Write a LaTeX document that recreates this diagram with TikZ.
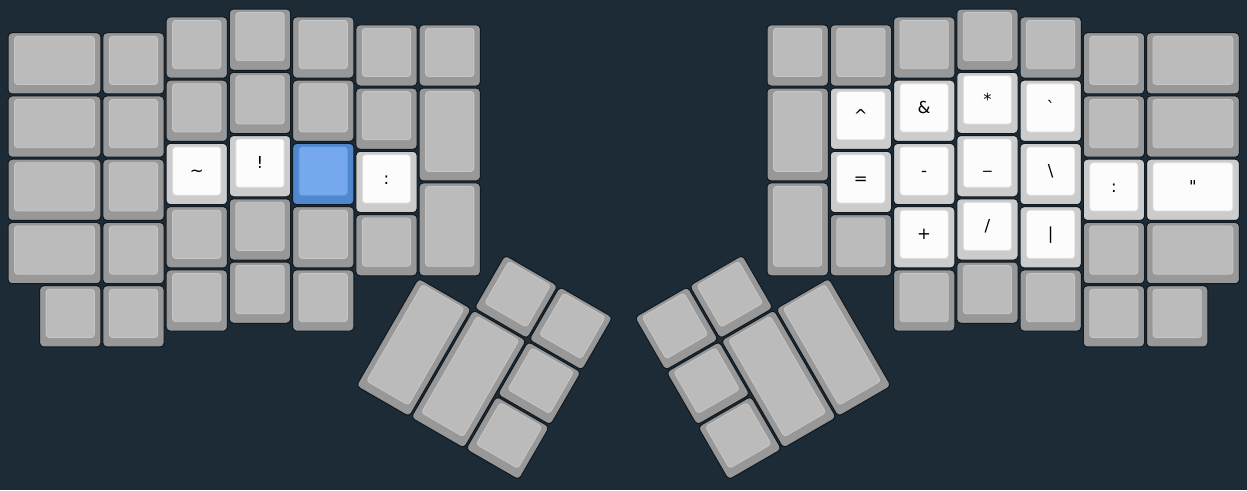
\documentclass[tikz,border=0pt]{standalone}
\usepackage{fontspec}
\setmainfont{DejaVu Sans}
\definecolor{bg}{HTML}{1C2B35}
\definecolor{kline}{HTML}{101820}
\definecolor{ngo}{HTML}{989898}
\definecolor{ngi}{HTML}{BBBBBB}
\definecolor{ngb}{HTML}{C6C6C6}
\definecolor{hgo}{HTML}{CCCCCC}
\definecolor{hgi}{HTML}{FCFCFC}
\definecolor{hgb}{HTML}{DDDDDD}
\definecolor{bgo}{HTML}{5088D0}
\definecolor{bgi}{HTML}{76A8EE}
\definecolor{bgb}{HTML}{6B9DE2}
\newcommand{\ku}{63.25pt}
\tikzset{
  n outer/.style={fill=ngo, draw=kline, line width=1pt, rounded corners=4pt},
  n inner/.style={fill=ngi, draw=ngb, line width=0.8pt, rounded corners=3pt},
  h outer/.style={fill=hgo, draw=kline, line width=1pt, rounded corners=4pt},
  h inner/.style={fill=hgi, draw=hgb, line width=0.8pt, rounded corners=3pt},
  b outer/.style={fill=bgo, draw=kline, line width=1pt, rounded corners=4pt},
  b inner/.style={fill=bgi, draw=bgb, line width=0.8pt, rounded corners=3pt},
  lbl/.style={anchor=base, font=\fontsize{16.5}{16.5}\selectfont, text=black, inner sep=0pt}
}
% key cap: #1 x, #2 y, #3 w, #4 h, #5 kind (n/h/b)
\newcommand{\kcap}[5]{%
  \begin{scope}[shift={({(#1)*\ku},{-(#2)*\ku})}]
    \draw[#5 outer] (1pt,-1pt) rectangle ({(#3)*\ku-1pt},{-(#4)*\ku+1pt});
    \draw[#5 inner] (7.5pt,-4.5pt) rectangle ({(#3)*\ku-7.5pt},{-(#4)*\ku+10.5pt});
  \end{scope}}
% labelled key: #1 x, #2 y, #3 kind, #4 label, #5 name
\newcommand{\lkey}[5]{%
  \kcap{#1}{#2}{1}{1}{#3}%
  \node[lbl] (#5) at ({(#1+0.5)*\ku},{-(#2)*\ku-34pt}) {#4};}
\begin{document}
\begin{tikzpicture}
\useasboundingbox (0,0) rectangle (1247pt,-490pt);
\fill[bg] (0,0) rectangle (1247pt,-490pt);
% ---------- left half ----------
\begin{scope}[shift={(7pt,-8pt)}]
  \foreach \r in {0.375,1.375,2.375,3.375} {\kcap{0}{\r}{1.5}{1}{n}}
  \kcap{0.5}{4.375}{1}{1}{n}
  \foreach \r in {0.375,1.375,2.375,3.375,4.375} {\kcap{1.5}{\r}{1}{1}{n}}
  \foreach \r in {0.125,1.125,3.125,4.125} {\kcap{2.5}{\r}{1}{1}{n}}
  \lkey{2.5}{2.125}{h}{\textasciitilde}{ltilde}
  \foreach \r in {0,1,3,4} {\kcap{3.5}{\r}{1}{1}{n}}
  \lkey{3.5}{2}{h}{!}{lexcl}
  \foreach \r in {0.125,1.125,3.125,4.125} {\kcap{4.5}{\r}{1}{1}{n}}
  \kcap{4.5}{2.125}{1}{1}{b}
  \foreach \r in {0.25,1.25,3.25} {\kcap{5.5}{\r}{1}{1}{n}}
  \lkey{5.5}{2.25}{h}{:}{lcolon}
  \kcap{6.5}{0.25}{1}{1}{n}
  \kcap{6.5}{1.25}{1}{1.5}{n}
  \kcap{6.5}{2.75}{1}{1.5}{n}
\end{scope}
% left thumb cluster
\begin{scope}[shift={({7pt+6.5*\ku},{-8pt-4.25*\ku})}, rotate=-30]
  \kcap{1}{-1}{1}{1}{n}
  \kcap{2}{-1}{1}{1}{n}
  \kcap{0}{0}{1}{2}{n}
  \kcap{1}{0}{1}{2}{n}
  \kcap{2}{0}{1}{1}{n}
  \kcap{2}{1}{1}{1}{n}
\end{scope}
% ---------- right half ----------
\begin{scope}[shift={({7pt+12*\ku},-8pt)}]
  \kcap{0}{0.25}{1}{1}{n}
  \kcap{0}{1.25}{1}{1.5}{n}
  \kcap{0}{2.75}{1}{1.5}{n}
  \foreach \r in {0.25,3.25} {\kcap{1}{\r}{1}{1}{n}}
  \lkey{1}{1.25}{h}{\textasciicircum}{rcirc}
  \lkey{1}{2.25}{h}{=}{requal}
  \foreach \r in {0.125,4.125} {\kcap{2}{\r}{1}{1}{n}}
  \lkey{2}{1.125}{h}{\&}{ramp}
  \lkey{2}{2.125}{h}{-}{rminus}
  \lkey{2}{3.125}{h}{+}{rplus}
  \foreach \r in {0,4} {\kcap{3}{\r}{1}{1}{n}}
  \lkey{3}{1}{h}{*}{rstar}
  \lkey{3}{2}{h}{\_}{runder}
  \lkey{3}{3}{h}{/}{rslash}
  \foreach \r in {0.125,4.125} {\kcap{4}{\r}{1}{1}{n}}
  \lkey{4}{1.125}{h}{\textasciigrave}{rgrave}
  \lkey{4}{2.125}{h}{\textbackslash}{rbslash}
  \lkey{4}{3.125}{h}{\textbar}{rbar}
  \foreach \r in {0.375,1.375,3.375,4.375} {\kcap{5}{\r}{1}{1}{n}}
  \lkey{5}{2.375}{h}{:}{rcolon}
  \foreach \r in {0.375,1.375,3.375} {\kcap{6}{\r}{1.5}{1}{n}}
  \kcap{6}{2.375}{1.5}{1}{h}
  \node[lbl] (rquote) at ({6.75*\ku},{-2.375*\ku-34pt}) {\textquotedbl};
  \kcap{6}{4.375}{1}{1}{n}
\end{scope}
% right thumb cluster
\begin{scope}[shift={({7pt+13*\ku},{-8pt-4.25*\ku})}, rotate=30]
  \kcap{-2}{-1}{1}{1}{n}
  \kcap{-3}{-1}{1}{1}{n}
  \kcap{-1}{0}{1}{2}{n}
  \kcap{-2}{0}{1}{2}{n}
  \kcap{-3}{0}{1}{1}{n}
  \kcap{-3}{1}{1}{1}{n}
\end{scope}
\end{tikzpicture}
\end{document}
